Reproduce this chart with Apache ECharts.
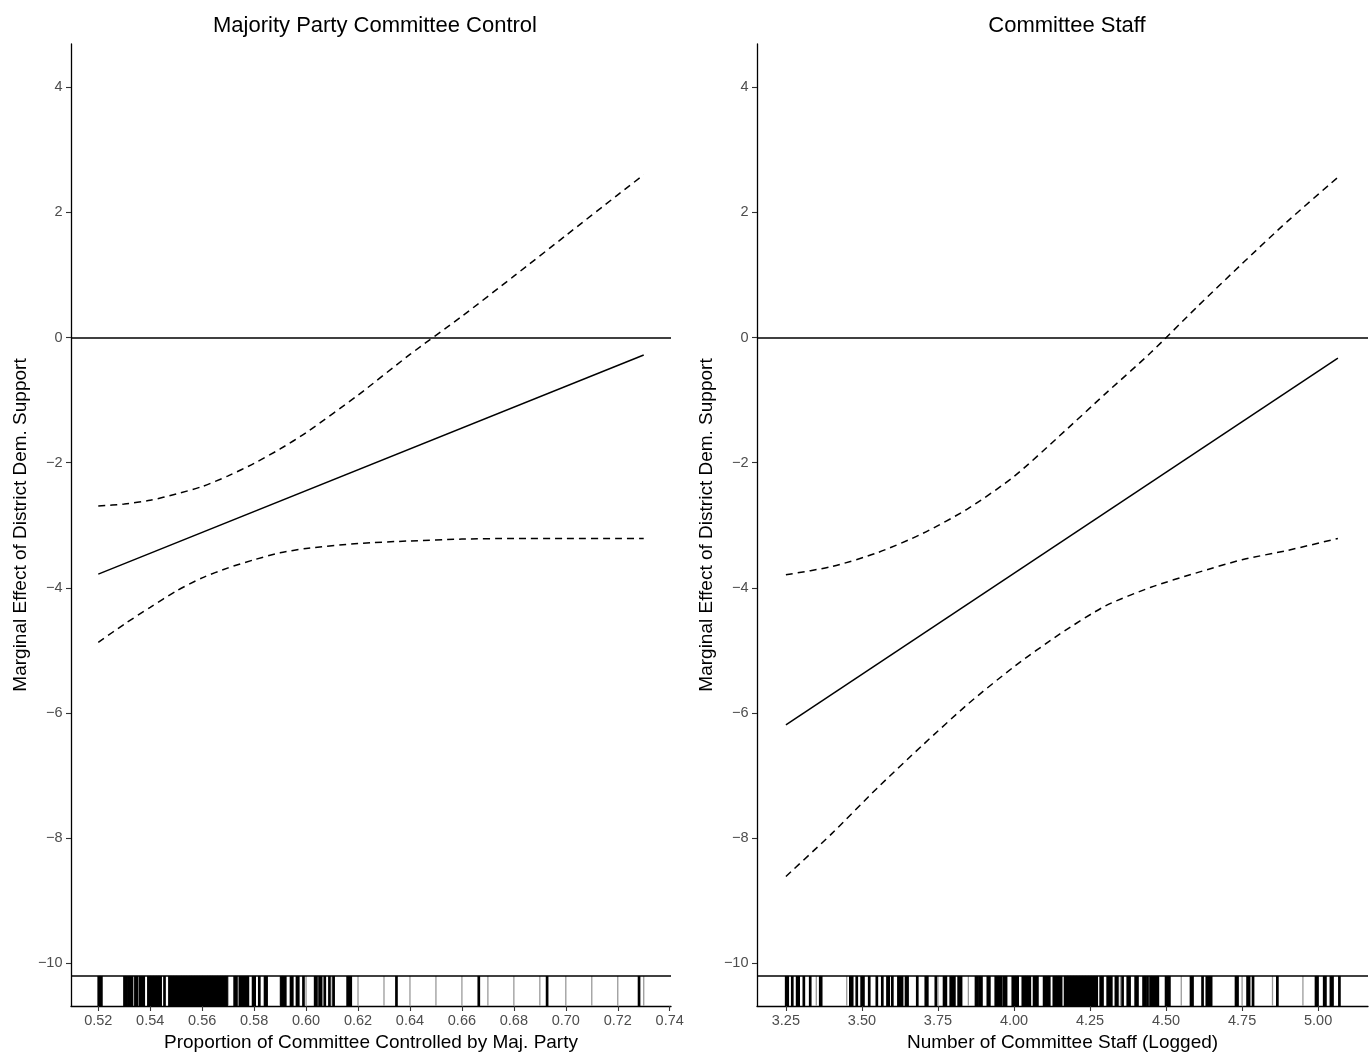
<!DOCTYPE html>
<html><head><meta charset="utf-8">
<script src="https://cdn.jsdelivr.net/npm/echarts@6/dist/echarts.min.js"></script>
<style>html,body{margin:0;padding:0;background:#fff}#c{width:1370px;height:1057px}</style>
</head><body><div id="c"></div>
<script>
// ---------- titles / axis names ----------
const panelTitles = ['Majority Party Committee Control', 'Committee Staff'];
const xNames = ['Proportion of Committee Controlled by Maj. Party', 'Number of Committee Staff (Logged)'];
const yName = 'Marginal Effect of District Dem. Support';

// ---------- tick labels ----------
const yTicks = [-10, -8, -6, -4, -2, 0, 2, 4];
const leftXTicks = [0.52, 0.54, 0.56, 0.58, 0.60, 0.62, 0.64, 0.66, 0.68, 0.70, 0.72, 0.74];
const rightXTicks = [3.25, 3.50, 3.75, 4.00, 4.25, 4.50, 4.75, 5.00];

// ---------- left panel: majority party committee control ----------
const leftEstX = [0.52, 0.73];
const leftEst = [-3.78, -0.28];
const leftCIX = [0.52, 0.53, 0.54, 0.55, 0.56, 0.57, 0.58, 0.59, 0.60, 0.62, 0.64, 0.66, 0.68, 0.70, 0.72, 0.73];
const leftUpper = [-2.69, -2.66, -2.60, -2.50, -2.38, -2.21, -2.01, -1.78, -1.52, -0.92, -0.27, 0.34, 0.98, 1.63, 2.28, 2.60];
const leftLower = [-4.87, -4.58, -4.31, -4.05, -3.84, -3.68, -3.55, -3.44, -3.37, -3.29, -3.25, -3.22, -3.21, -3.21, -3.21, -3.21];
const leftRug = [0.5202, 0.5207, 0.5212, 0.5301, 0.5308, 0.5316, 0.5323, 0.5330, 0.5343, 0.5350, 0.5362, 0.5368, 0.5375,
  0.5393, 0.5398, 0.5404, 0.5410, 0.5416, 0.5422, 0.5428, 0.5434, 0.5440, 0.5455, 0.5474, 0.5480, 0.5486, 0.5492,
  0.5498, 0.5504, 0.5510, 0.5518, 0.5524, 0.5530, 0.5536, 0.5542, 0.5548, 0.5555, 0.5562, 0.5568, 0.5574, 0.5580,
  0.5586, 0.5592, 0.5598, 0.5604, 0.5612, 0.5618, 0.5624, 0.5630, 0.5636, 0.5642, 0.5648, 0.5656, 0.5662, 0.5668,
  0.5674, 0.5680, 0.5688, 0.5694, 0.5725, 0.5732, 0.5745, 0.5752, 0.5760, 0.5768, 0.5776, 0.5796, 0.5802, 0.5820,
  0.5842, 0.5848, 0.5905, 0.5912, 0.5920, 0.5942, 0.5947, 0.5965, 0.5970, 0.5990, 0.6035, 0.6040, 0.6052, 0.6058,
  0.6072, 0.6090, 0.6106, 0.6160, 0.6166, 0.6172, 0.6348, 0.6665, 0.6928, 0.7282];
const leftRugGrey = [0.52, 0.53, 0.54, 0.55, 0.56, 0.57, 0.58, 0.59, 0.60, 0.61, 0.62, 0.63, 0.64, 0.65, 0.66, 0.67, 0.68, 0.69, 0.70, 0.71, 0.72, 0.73];

// ---------- right panel: committee staff ----------
const rightEstX = [3.25, 5.065];
const rightEst = [-6.19, -0.33];
const rightCIX = [3.25, 3.40, 3.55, 3.70, 3.85, 4.00, 4.15, 4.30, 4.45, 4.60, 4.75, 4.90, 5.065];
const rightUpper = [-3.79, -3.66, -3.44, -3.13, -2.73, -2.22, -1.57, -0.90, -0.24, 0.48, 1.18, 1.86, 2.56];
const rightLower = [-8.61, -7.93, -7.20, -6.51, -5.85, -5.26, -4.74, -4.29, -3.99, -3.76, -3.55, -3.40, -3.21];
const rightRug = [3.251, 3.256, 3.271, 3.287, 3.292, 3.309, 3.330, 3.363, 3.366,
  3.462, 3.468, 3.483, 3.499, 3.505, 3.524, 3.549, 3.567, 3.584, 3.588, 3.600, 3.620, 3.626, 3.632, 3.645, 3.650,
  3.682, 3.710, 3.715, 3.743, 3.770, 3.776, 3.792, 3.798, 3.804, 3.818, 3.826,
  3.875, 3.880, 3.887, 3.893, 3.914, 3.919, 3.940, 3.946, 3.952, 3.958, 3.967, 3.974, 3.996, 4.002, 4.008, 4.012,
  4.029, 4.035, 4.041, 4.047, 4.052, 4.066, 4.072, 4.077, 4.099, 4.105, 4.111, 4.116, 4.131, 4.137, 4.143, 4.149, 4.155,
  4.168, 4.173, 4.178, 4.183, 4.188, 4.193, 4.198, 4.203, 4.208, 4.213, 4.218, 4.223, 4.228, 4.233, 4.238, 4.243,
  4.248, 4.253, 4.258, 4.263, 4.268, 4.272,
  4.285, 4.291, 4.308, 4.314, 4.320, 4.335, 4.340, 4.357, 4.374, 4.380, 4.400, 4.406, 4.426, 4.432, 4.439, 4.449,
  4.455, 4.461, 4.467, 4.473, 4.500, 4.506, 4.511, 4.582, 4.587, 4.620, 4.634, 4.640, 4.648, 4.730, 4.735, 4.768,
  4.773, 4.786, 4.866, 4.993, 4.998, 5.020, 5.024, 5.042, 5.047, 5.070];
const rightRugGrey = [3.25, 3.35, 3.45, 3.55, 3.65, 3.75, 3.85, 3.95, 4.05, 4.15, 4.25, 4.35, 4.45, 4.55, 4.65, 4.75, 4.85, 4.95, 5.05];

// ---------- layout constants ----------
const Y_MIN = -10.68, Y_MAX = 4.69, RUG_TOP = -10.2;
const FONT = '"Liberation Sans", Arial, Helvetica, sans-serif';

const zip = (xs, ys) => xs.map((x, i) => [x, ys[i]]);
const fmtY = v => v < 0 ? '\u2212' + Math.abs(v) : String(v);

function xAxisCfg(idx, min, max, ticks) {
  return {
    type: 'value', gridIndex: idx, min: min, max: max,
    name: xNames[idx], nameLocation: 'middle', nameGap: 27,
    nameTextStyle: { fontSize: 19, color: '#000', fontFamily: FONT },
    axisLine: { show: true, onZero: false, lineStyle: { color: '#000', width: 1.3 } },
    axisTick: { show: true, length: 5, customValues: ticks, lineStyle: { color: '#333', width: 1.1 } },
    axisLabel: { customValues: ticks, formatter: v => v.toFixed(2), fontSize: 14.5, color: '#4d4d4d', margin: 7, fontFamily: FONT },
    splitLine: { show: false }
  };
}
function yAxisCfg(idx) {
  return {
    type: 'value', gridIndex: idx, min: Y_MIN, max: Y_MAX,
    name: yName, nameLocation: 'middle', nameGap: 41,
    nameTextStyle: { fontSize: 19, color: '#000', fontFamily: FONT },
    axisLine: { show: true, onZero: false, lineStyle: { color: '#000', width: 1.3 } },
    axisTick: { show: true, length: 5, customValues: yTicks, lineStyle: { color: '#333', width: 1.1 } },
    axisLabel: { customValues: yTicks, formatter: fmtY, fontSize: 14.5, color: '#4d4d4d', margin: 8.5, fontFamily: FONT },
    splitLine: { show: false }
  };
}
function rugSeries(idx, vals, color, width, z) {
  return {
    type: 'custom', xAxisIndex: idx, yAxisIndex: idx, z: z, silent: true, clip: true,
    data: vals.map(v => [v]),
    renderItem: (params, api) => {
      const x = api.value(0);
      const p1 = api.coord([x, RUG_TOP]);
      const p2 = api.coord([x, Y_MIN]);
      return { type: 'line', shape: { x1: p1[0], y1: p1[1], x2: p2[0], y2: p2[1] }, style: { stroke: color, lineWidth: width } };
    }
  };
}
function lineSeries(idx, data, dashed) {
  return {
    type: 'line', xAxisIndex: idx, yAxisIndex: idx, data: data, smooth: dashed ? 0.25 : false,
    symbol: 'none', silent: true, z: 5,
    lineStyle: { color: '#000', width: 1.5, type: dashed ? [7, 5] : 'solid' }
  };
}
function refLines(idx) {
  return {
    type: 'line', xAxisIndex: idx, yAxisIndex: idx, data: [], silent: true, z: 6,
    markLine: {
      silent: true, symbol: 'none', label: { show: false },
      lineStyle: { color: '#000', width: 1.5, type: 'solid' },
      data: [{ yAxis: 0 }, { yAxis: RUG_TOP }]
    }
  };
}

const chart = echarts.init(document.getElementById('c'), null, { renderer: 'canvas' });
chart.setOption({
  backgroundColor: '#fff',
  animation: false,
  textStyle: { fontFamily: FONT },
  title: [
    { text: panelTitles[0], left: 370, top: 10, textAlign: 'center', textStyle: { fontSize: 22, fontWeight: 'normal', color: '#000', fontFamily: FONT } },
    { text: panelTitles[1], left: 1062, top: 10, textAlign: 'center', textStyle: { fontSize: 22, fontWeight: 'normal', color: '#000', fontFamily: FONT } }
  ],
  grid: [
    { left: 71, top: 44, width: 600, height: 966 },
    { left: 757, top: 44, width: 611, height: 966 }
  ],
  xAxis: [xAxisCfg(0, 0.5095, 0.7405, leftXTicks), xAxisCfg(1, 3.155, 5.164, rightXTicks)],
  yAxis: [yAxisCfg(0), yAxisCfg(1)],
  series: [
    rugSeries(0, leftRugGrey, '#9a9a9a', 1.3, 2),
    rugSeries(0, leftRug, '#000', 2.7, 3),
    rugSeries(1, rightRugGrey, '#9a9a9a', 1.3, 2),
    rugSeries(1, rightRug, '#000', 2.7, 3),
    refLines(0), refLines(1),
    lineSeries(0, zip(leftEstX, leftEst), false),
    lineSeries(0, zip(leftCIX, leftUpper), true),
    lineSeries(0, zip(leftCIX, leftLower), true),
    lineSeries(1, zip(rightEstX, rightEst), false),
    lineSeries(1, zip(rightCIX, rightUpper), true),
    lineSeries(1, zip(rightCIX, rightLower), true)
  ]
});
</script></body></html>
